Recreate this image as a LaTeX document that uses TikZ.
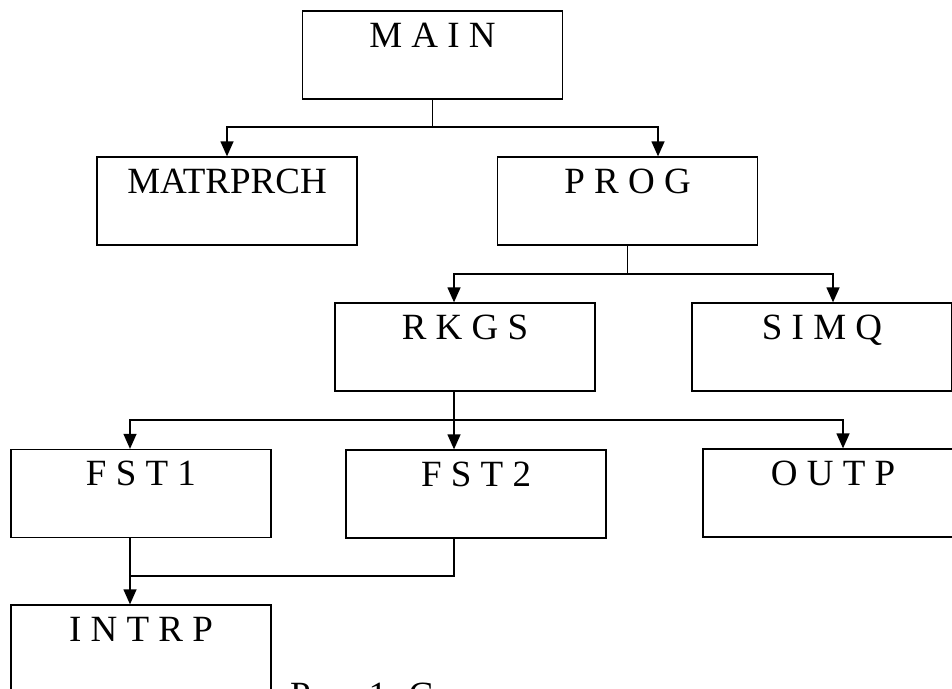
\documentclass[tikz,border=0pt]{standalone}
\usepackage{fontspec}
\setmainfont{Liberation Serif}
\usetikzlibrary{arrows.meta}
\tikzset{
  box/.style={draw, line width=1.3pt, minimum width=260pt, inner xsep=0pt, inner ysep=0pt,
    text height=36pt, text depth=52pt, font=\fontsize{37}{40}\selectfont, anchor=center},
  conn/.style={line width=1.3pt},
  arr/.style={line width=1.3pt, -{Triangle[length=15pt,width=13pt]}},
  captext/.style={font=\fontsize{37}{40}\selectfont, anchor=base west, inner sep=0pt}
}
\begin{document}
\begin{tikzpicture}[x=1pt,y=-1pt]
\useasboundingbox (0,0) rectangle (952,688);
\clip (0,0) rectangle (952,688);
\fill[white] (0,0) rectangle (952,688);
\node[box] (main) at (432.5,55) {M A I N};
\node[box] (matr) at (227,201) {MATRPRCH};
\node[box] (prog) at (627.5,201) {P R O G};
\node[box] (rkgs) at (465,347) {R K G S};
\node[box] (simq) at (822,347) {S I M Q};
\node[box] (fst1) at (141,493.5) {F S T 1};
\node[box] (fst2) at (476,494) {F S T 2};
\node[box] (outp) at (833,493) {O U T P};
\node[box] (intrp) at (141,649) {I N T R P};
\node[captext] (caption) at (290,707) {Рис. 1. С};
% level 1
\coordinate (b1) at (432.5,127);
\coordinate (progin) at (658,127);
\draw[conn] (main.south) -- (b1);
\draw[arr] (b1) -| (matr.north);
\draw[arr] (b1) -- (progin) -- (progin |- prog.north);
% level 2
\coordinate (b2) at (627.5,274);
\coordinate (b2l) at (454,274);
\coordinate (b2r) at (833,274);
\draw[conn] (prog.south) -- (b2);
\draw[arr] (b2) -- (b2l) -- (b2l |- rkgs.north);
\draw[arr] (b2) -- (b2r) -- (b2r |- simq.north);
% level 3
\coordinate (b3) at (454,420);
\coordinate (b3l) at (130,420);
\coordinate (b3r) at (843,420);
\draw[conn] (b3 |- rkgs.south) -- (b3);
\draw[arr] (b3) -- (b3l) -- (b3l |- fst1.north);
\draw[arr] (b3) -- (b3 |- fst2.north);
\draw[arr] (b3) -- (b3r) -- (b3r |- outp.north);
% level 4
\coordinate (b4) at (130,576);
\coordinate (b4r) at (454,576);
\draw[conn] (b4r |- fst2.south) -- (b4r) -- (b4);
\draw[arr] (b4 |- fst1.south) -- (b4 |- intrp.north);
\end{tikzpicture}
\end{document}
